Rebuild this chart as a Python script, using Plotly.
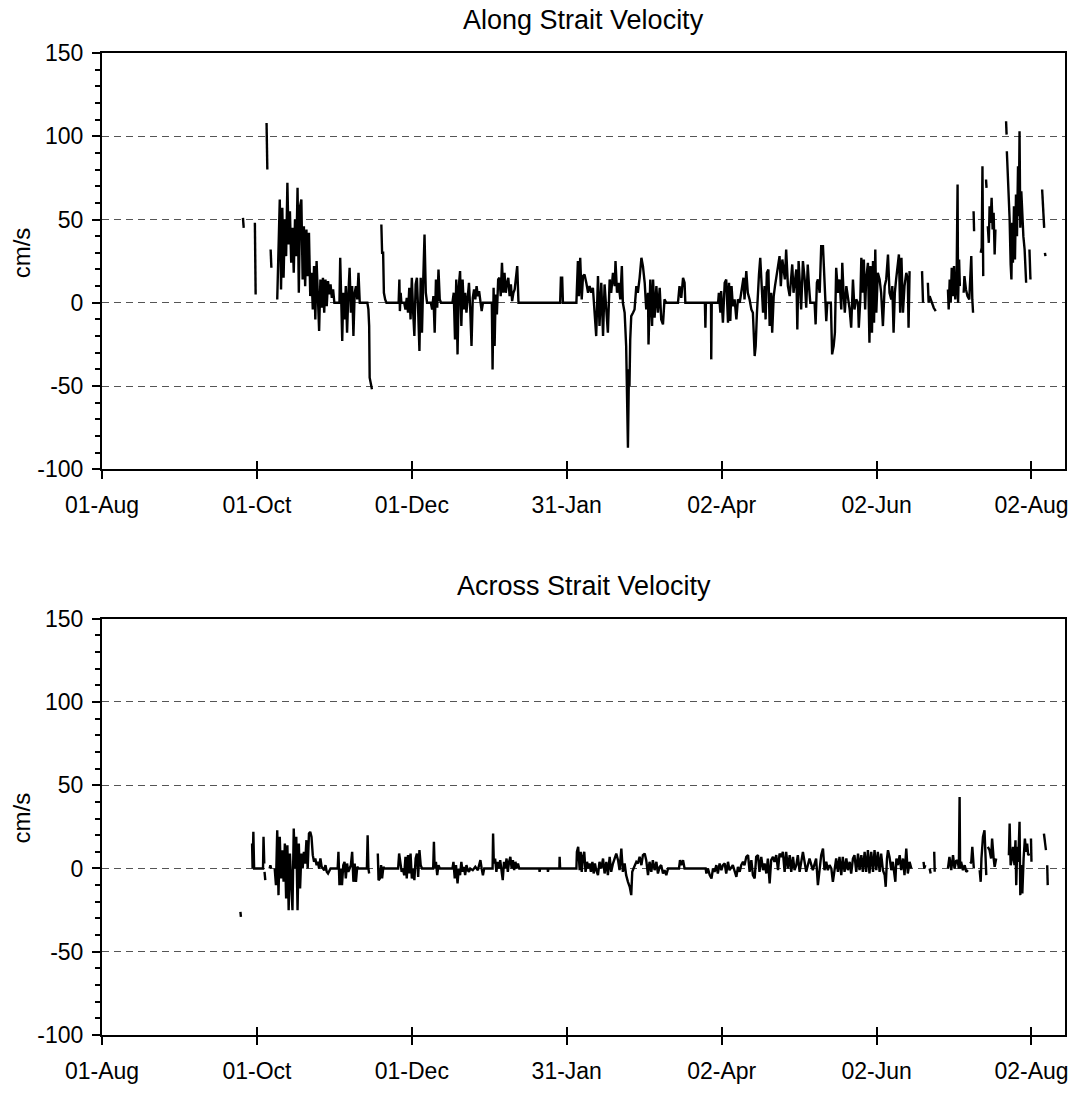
import pandas as pd
import plotly.graph_objects as go

# ---------------- data (day offset from START, value in cm/s) ----------------
START = "2002-08-01"
END_DAY = 379.2

tick_dates = ["2002-08-01", "2002-10-01", "2002-12-01", "2003-01-31",
              "2003-04-02", "2003-06-02", "2003-08-02"]
tick_labels = ["01-Aug", "01-Oct", "01-Dec", "31-Jan", "02-Apr", "02-Jun", "02-Aug"]

y_ticks = [-100, -50, 0, 50, 100, 150]
y_tick_labels = ["-100", "-50", "0", "50", "100", "150"]
y_minor_ticks = [-90, -80, -70, -60, -40, -30, -20, -10, 10, 20, 30, 40,
                 60, 70, 80, 90, 110, 120, 130, 140]

# ---- Along strait: contiguous runs (gaps between runs) ----
along_r01 = [(55.5, 51), (55.8, 45)]
along_r02 = [(60.2, 48), (60.5, 5)]
along_r03 = [(64.8, 108), (65.1, 80)]
along_r04 = [(66.4, 32), (66.7, 21)]
along_oct_nov = [
    (69.0, 2), (69.5, 40), (70.0, 62), (70.5, 8), (71.0, 57), (71.5, 15), (72.0, 50), (72.5, 28),
    (73.0, 72), (73.5, 35), (74.0, 55), (74.5, 24), (75.0, 45), (75.5, 18), (76.0, 50), (76.5, 28),
    (77.0, 69), (77.5, 6), (78.0, 58), (78.5, 62), (79.0, 14), (79.5, 46), (80.0, 10), (80.5, 44),
    (81.0, 16), (81.5, 42), (82.0, 4), (82.5, 18), (83.0, -4), (83.5, 22), (84.0, -10), (84.5, 25),
    (85.0, 2), (85.5, -17), (86.0, 14), (86.5, -3), (87.0, 15), (87.5, -6), (88.0, 14), (88.5, -2),
    (89.0, 13), (89.5, 5), (90.0, 11), (90.5, 3), (91.0, 8), (91.5, 0), (93.5, 0), (93.8, 27),
    (94.2, 2), (94.6, -23), (95.0, 6), (95.5, -10), (96.0, 10), (96.5, -18), (97.0, 5), (97.5, 21),
    (98.0, -6), (98.5, 10), (99.0, -20), (99.5, 6), (100.0, 10), (100.5, 2), (101.0, 18), (101.5, 0),
    (104.5, 0), (104.9, -4), (105.2, -14), (105.4, -45), (106.3, -52)]
along_dec = [
    (110.0, 47), (110.3, 30), (110.7, 30), (111.0, 6), (111.5, 2), (112.0, 0), (116.8, 0), (117.1, 14),
    (117.3, -5), (117.6, 6), (117.9, 0), (119.0, 0), (119.5, -4), (120.0, 3), (120.5, -6), (121.0, 9),
    (121.5, -10), (122.0, 15), (122.5, -5), (123.0, -20), (123.5, 11), (124.0, 15), (124.5, -5),
    (125.0, -29), (125.5, 15), (126.0, -18), (126.5, 14), (127.0, 41), (127.5, 6), (128.0, 0),
    (129.5, 0), (130.0, -4), (130.5, 4), (131.0, -18), (131.5, 14), (132.0, -3), (132.5, 20),
    (133.0, 2), (133.5, 0), (138.0, 0), (138.5, 6), (139.0, -22), (139.5, 14), (140.0, -31),
    (140.5, 10), (141.0, 19), (141.5, -14), (142.0, 14), (142.5, -4), (143.0, 6), (143.5, -6),
    (144.0, 2), (144.5, 12), (145.0, -4), (145.5, -26), (146.0, 3), (146.5, 8), (147.0, 2),
    (147.5, 10), (148.0, 4), (148.5, 7), (149.0, 1), (149.5, -5), (150.0, 0), (153.5, 0),
    (153.8, -40), (154.2, 9), (154.6, -26), (155.0, 5), (155.5, -7), (156.0, 14), (156.5, 15),
    (157.0, 4), (157.5, 24), (158.0, 6), (158.5, 18), (159.0, 6), (159.5, 12), (160.0, 15),
    (160.5, 4), (161.0, 11), (161.5, 1), (162.0, 6), (162.5, 8), (163.5, 22), (164.0, 0)]
along_jan_mar = [
    (180.4, 0), (180.7, 15), (181.2, 15), (181.5, 0), (186.8, 0), (187.4, 25), (187.8, 4), (188.3, 27),
    (188.9, 2), (189.4, 16), (190.0, 17), (190.7, 12), (191.4, 6), (192.0, 10), (192.7, 6), (193.3, 9),
    (194.0, -9), (194.6, -20), (195.3, 16), (195.9, -14), (196.6, 12), (197.3, -20), (197.9, 11),
    (198.6, -2), (199.2, -18), (199.9, 14), (200.5, 6), (201.2, 18), (201.9, 10), (202.2, 25),
    (202.8, 6), (203.4, 12), (204.1, 2), (204.7, 22), (205.1, 0), (205.8, -6), (206.4, -26),
    (207.1, -87), (207.5, -40), (207.7, -50), (208.0, -22), (208.4, -8), (209.1, -6), (209.7, -4),
    (210.4, 10), (211.0, 6), (211.7, 15), (212.4, 27), (213.0, 22), (213.7, 12), (214.3, -4),
    (215.0, 6), (215.2, -25), (215.9, 14), (216.6, -14), (217.0, 14), (217.6, -9), (218.3, 10),
    (218.9, -6), (219.6, 9), (220.2, -10), (220.9, -13), (221.5, 2), (222.2, 0), (226.8, 0),
    (227.4, 10), (228.1, 3), (228.8, 15), (229.4, 12), (229.7, 0), (237.4, 0), (237.6, -15),
    (237.8, 0), (239.8, 0), (239.9, -34), (240.1, 0), (242.6, 0)]
along_apr_jun = [
    (242.9, 6), (243.5, -6), (243.8, 7), (244.5, -12), (245.2, 12), (245.8, 14), (246.5, -12),
    (246.9, 12), (247.4, -11), (247.9, 10), (248.4, -2), (249.1, 2), (249.8, -10), (250.4, 2),
    (251.1, 0), (251.7, 6), (252.1, 10), (252.6, 15), (253.0, 2), (253.7, 19), (254.3, 6), (255.0, 2),
    (255.7, -4), (256.3, -6), (257.0, -32), (257.4, -26), (257.9, -6), (258.3, 10), (258.7, 17),
    (259.2, 27), (259.6, 12), (260.3, -6), (260.9, 10), (261.3, -10), (261.8, 18), (262.4, 20),
    (262.9, -14), (263.5, 6), (263.9, -18), (264.5, 4), (265.0, 10), (265.5, 14), (266.2, 22),
    (266.8, 28), (267.3, 10), (267.9, 26), (268.4, 18), (268.9, 14), (269.4, 32), (270.1, 10),
    (270.8, 4), (271.4, 18), (271.8, 23), (272.3, 6), (272.9, 14), (273.4, 20), (273.8, -16),
    (274.3, 25), (274.7, 14), (275.3, -4), (276.0, 25), (276.7, 14), (277.3, -3), (277.9, 23),
    (278.4, 10), (278.9, 0), (280.6, 0), (281.0, -13), (281.5, 12), (281.9, 14), (282.6, 6),
    (283.2, 34), (283.9, 34), (284.3, 22), (284.7, 10), (285.2, -11), (285.6, 0), (287.0, 0),
    (287.5, -31), (288.1, -26), (288.6, -18), (289.1, 21), (289.8, 6), (290.4, 14), (291.1, -4),
    (291.5, 24), (292.0, 6), (292.5, -6), (293.1, 10), (293.7, 4), (294.4, -4), (295.0, -15),
    (295.7, 14), (296.3, -4), (297.0, 2), (297.7, 0), (298.0, -15), (298.6, 2), (299.0, 27),
    (299.6, 6), (300.0, 26), (300.5, -4), (300.9, 14), (301.6, 24), (302.2, -24), (302.6, 22),
    (303.2, -18), (303.6, 25), (304.0, -12), (304.5, 32), (304.9, -6), (305.5, 18), (306.2, 14),
    (306.8, 6), (307.5, -14), (308.2, 10), (308.8, 14), (309.5, 29), (310.1, 6), (310.8, 2),
    (311.2, 10), (311.7, -18), (312.2, 6), (312.7, 14), (313.4, 22), (313.8, 29), (314.3, -6),
    (314.8, 27), (315.4, -6), (316.0, 10), (316.7, 18), (317.3, 14), (317.6, -15), (318.0, 19)]
along_r07 = [(322.9, 19), (323.1, 4), (323.3, 0)]
along_r08 = [(325.2, 12), (325.5, 0), (325.9, 4), (326.3, 2), (326.8, 0), (327.5, -3), (328.3, -5)]
along_r09 = [(333.1, 8), (333.4, -4), (333.8, 14), (334.2, 0), (334.6, 21), (335.0, 4), (335.5, 22),
             (336.0, 2), (336.5, 12), (336.9, 71), (337.1, 0), (337.5, 26), (337.8, 10)]
along_r10 = [(339.3, 6), (339.6, 16), (340.2, 8), (340.8, 4), (341.5, 2), (342.3, 28), (342.7, 2),
             (343.0, -6)]
along_r11 = [(343.2, 55), (343.4, 43)]
along_r12 = [(346.0, 30), (346.4, 33), (346.7, 82), (347.0, 16)]
along_r13 = [(348.1, 74), (348.3, 69)]
along_r14 = [(348.8, 46), (349.2, 36), (349.5, 58), (349.9, 48), (350.3, 63), (350.7, 44),
             (351.1, 54), (351.5, 29), (351.8, 44)]
along_r15 = [(356.0, 109), (356.2, 101)]
along_r16 = [(356.3, 91), (356.6, 80), (357.0, 71), (357.4, 50), (357.8, 23), (358.1, 14),
             (358.4, 48), (358.7, 24), (359.1, 58), (359.5, 26), (359.9, 65), (360.3, 40),
             (360.7, 82), (361.0, 52), (361.3, 103), (361.6, 45), (362.0, 67), (362.4, 48),
             (362.8, 40), (363.3, 32), (363.9, 12)]
along_r17 = [(365.2, 32), (365.6, 14)]
along_r18 = [(370.2, 68), (370.5, 60), (371.0, 45)]
along_r19 = [(371.3, 30), (371.5, 28)]

# ---- Across strait ----
across_r01 = [(54.5, -26), (54.7, -29)]
across_r02 = [(59.1, 15), (59.3, 0), (59.6, 22), (59.9, 0), (63.4, 0), (63.6, 19), (63.9, 3)]
across_r03 = [(64.0, -2), (64.3, -7)]
across_r04 = [(66.0, 0), (66.3, 2), (66.6, 0)]
across_oct_nov = [
    (68.0, 0), (68.5, -10), (69.0, 23), (69.5, -16), (70.0, 19), (70.5, -6), (71.0, 11), (71.5, -8),
    (72.0, 15), (72.5, -18), (73.0, 14), (73.5, -25), (74.0, 9), (74.5, -14), (75.0, -25), (75.5, 24),
    (76.0, 0), (76.5, 19), (77.0, -25), (77.5, 15), (78.0, -12), (78.5, 9), (79.0, 0), (79.5, 10),
    (80.0, 3), (80.5, 17), (81.0, 0), (81.5, 21), (82.0, 22), (82.5, 19), (83.0, 8), (83.5, 4),
    (84.0, 6), (84.5, 2), (85.0, 4), (85.5, 0), (86.0, 6), (86.5, 1), (87.0, 0), (87.5, -1),
    (88.0, 2), (88.5, -2), (89.0, -3), (89.5, -1), (90.0, 0), (92.8, 0), (93.1, 10), (93.5, -10),
    (94.0, 0), (94.5, -10), (95.0, 2), (95.5, 4), (96.0, -6), (96.5, 3), (97.0, -2), (97.5, 0),
    (98.0, 2), (98.5, 10), (99.0, -8), (99.5, 3), (100.0, -8), (100.5, 1), (101.0, 0), (104.3, 0),
    (104.6, 20), (104.9, 0), (105.2, -3)]
across_dec_jan = [
    (108.6, 9), (108.9, -7), (109.4, -6), (109.9, 2), (110.3, -6), (110.8, 1), (111.2, 0), (116.6, 0),
    (117.0, 9), (117.5, 2), (118.0, -2), (118.5, 0), (119.0, -4), (119.5, 7), (120.0, -6), (120.5, 8),
    (121.0, -3), (121.5, 9), (122.0, -6), (122.5, 0), (123.0, -7), (123.5, 6), (124.0, 9), (124.5, -5),
    (125.0, 11), (125.5, 2), (126.0, 0), (130.4, 0), (130.7, 16), (131.0, 0), (131.5, 4), (132.0, -4),
    (132.5, 2), (133.0, 0), (138.0, 0), (138.4, 4), (138.9, -6), (139.4, 2), (140.0, -9), (140.5, 0),
    (141.0, -4), (141.5, 4), (142.0, -2), (142.5, 1), (143.0, -4), (143.5, 2), (144.0, -1),
    (144.5, -2), (145.0, 0), (146.0, -1), (147.0, 1), (148.0, -1), (149.0, 5), (149.5, 0),
    (150.0, -4), (150.5, 0), (153.8, 0), (154.0, 21), (154.3, 3), (154.8, 6), (155.3, -2),
    (155.8, 4), (156.3, 0), (156.8, 5), (157.3, -2), (157.8, -7), (158.3, 4), (158.8, 0), (159.3, 6),
    (159.8, -2), (160.3, 4), (160.8, 7), (161.3, 0), (161.8, 5), (162.3, -1), (162.8, 4), (163.3, 0),
    (163.8, 3), (164.3, 0), (172.2, 0), (172.3, -2), (172.5, 0), (175.5, 0), (175.6, -2), (175.8, 0),
    (180.1, 0), (180.2, 7), (180.4, 0), (186.8, 0)]
across_feb_apr = [
    (187.0, 10), (187.5, 13), (188.1, -1), (188.5, 10), (188.9, -2), (189.4, 7), (189.9, 10),
    (190.4, -2), (191.0, 4), (191.5, 0), (192.0, 3), (192.5, -2), (193.1, 4), (193.6, -3), (194.1, 3),
    (194.6, -1), (195.3, -4), (195.9, 4), (196.6, 0), (197.3, 6), (197.9, -3), (198.6, 4), (199.2, -4),
    (199.9, 7), (200.5, -2), (201.2, 3), (201.9, 7), (202.5, 9), (203.2, 5), (203.8, -1), (204.5, 12),
    (205.1, -2), (205.8, 3), (206.4, -4), (207.1, -8), (207.8, -11), (208.4, -16), (208.8, -2),
    (209.3, 0), (209.7, 2), (210.4, 4), (211.0, 3), (211.7, 7), (212.4, 2), (213.0, 8), (213.7, 9),
    (214.3, 5), (215.0, -4), (215.6, 4), (216.3, -2), (216.9, 5), (217.6, -1), (218.3, 4),
    (218.9, -3), (219.6, 1), (220.2, 2), (220.9, -3), (221.5, -1), (222.2, -4), (222.9, 0),
    (226.8, 0), (227.2, 0), (227.6, 5), (228.1, 2), (228.8, 5), (229.4, 0), (237.3, 0), (237.7, 0),
    (238.0, -3), (238.6, 0), (239.3, -4), (240.0, -6), (240.6, 0), (241.2, -2), (241.9, 2),
    (242.5, -3), (243.2, 3), (243.9, -1), (244.5, 2), (245.2, 3), (245.8, -3), (246.5, 4),
    (247.1, -1), (247.8, 1), (248.4, 2), (249.8, -5), (250.4, 1), (251.1, -2), (251.7, 2),
    (252.4, 4), (253.0, 2), (253.7, 7), (254.4, 8), (255.0, -2), (255.7, 5), (256.3, -4),
    (257.0, -6), (257.6, 7), (258.3, 8), (258.9, -2), (259.6, 7), (260.3, -1), (260.9, 3),
    (261.6, -3), (262.2, 6), (262.9, -9), (263.5, 5), (264.2, 7), (264.8, 4), (265.5, 8),
    (266.2, -1), (266.8, 9), (267.5, 7), (268.1, 10), (268.8, -2), (269.4, 10), (270.1, 0),
    (270.8, 8), (271.4, -2), (272.1, 7), (272.7, -1), (273.4, 2), (274.0, 8), (274.7, -2)]
across_may_jun = [
    (276.0, 10), (277.3, -2), (278.6, 6), (279.9, -1), (281.2, 6), (281.9, -10), (282.6, 2),
    (283.2, 8), (283.9, 12), (284.5, -1), (285.2, 4), (285.8, -1), (286.5, 2), (287.2, 0),
    (287.8, -8), (289.1, 6), (289.8, -2), (290.4, 7), (291.1, -4), (291.7, 7), (292.4, -2),
    (293.1, 6), (293.7, -1), (294.4, 4), (295.0, -3), (295.7, 6), (296.3, 8), (297.0, -2),
    (297.7, 9), (298.3, -1), (299.0, 8), (299.6, -2), (300.3, 10), (300.9, -2), (301.6, 11),
    (302.2, -3), (302.9, 10), (303.6, -2), (304.2, 11), (304.9, -1), (305.5, 10), (306.2, -2),
    (306.8, 9), (307.5, -1), (308.2, -4), (308.6, -11), (309.1, 6), (309.5, 11), (310.1, 7),
    (310.8, -1), (311.4, 4), (312.1, -4), (312.4, -8), (312.8, 6), (313.4, 2), (314.1, 8),
    (314.7, -1), (315.4, 6), (316.0, -4), (316.7, 12), (317.3, -3), (318.0, 4), (318.7, 0)]
across_r09 = [(323.5, 4), (323.8, 0), (324.2, 2)]
across_r10 = [(325.9, 0), (326.3, -3)]
across_r11 = [(327.7, 10), (327.9, -2)]
across_r12 = [(333.1, 0), (333.7, 7), (334.4, -1), (335.1, 8), (335.7, 0), (336.4, 5), (337.0, 4),
              (337.4, 0), (337.7, 43), (337.9, 0), (338.3, 4), (339.0, -1), (339.7, 2), (340.3, -2),
              (341.0, -1)]
across_r13 = [(341.9, 3), (342.3, 4), (342.7, 13), (342.9, 7), (343.3, 0)]
across_r14 = [(345.6, -1), (346.0, -8), (346.3, 6), (346.9, 19), (347.5, 23), (347.9, 8), (348.2, -4)]
across_r15 = [(348.8, 13), (349.5, 11), (350.1, 6), (350.5, 18), (351.1, 6), (351.5, 1), (352.1, 6)]
across_r16 = [(357.1, 8), (357.4, 27), (357.8, 2), (358.2, 5), (358.7, 13), (359.3, 2), (359.7, 17),
              (360.0, -10), (360.4, 13), (360.8, 4), (361.3, 28), (361.6, -16), (362.0, 2),
              (362.4, -15), (362.9, 6), (363.4, 18), (363.9, 10), (364.3, 15), (364.7, 8), (365.2, 9)]
across_r17 = [(365.8, 18), (366.0, 4)]
across_r18 = [(370.9, 21), (371.3, 15), (371.7, 11)]
across_r19 = [(372.2, 2), (372.4, -10)]

# ---------------- assembly ----------------
along_runs = [along_r01, along_r02, along_r03, along_r04, along_oct_nov,
              along_dec + along_jan_mar + along_apr_jun,
              along_r07, along_r08, along_r09, along_r10, along_r11, along_r12, along_r13,
              along_r14, along_r15, along_r16, along_r17, along_r18, along_r19]
across_runs = [across_r01, across_r02, across_r03, across_r04, across_oct_nov,
               across_dec_jan + across_feb_apr + across_may_jun,
               across_r09, across_r10, across_r11, across_r12, across_r13, across_r14,
               across_r15, across_r16, across_r17, across_r18, across_r19]

base = pd.Timestamp(START)


def build(runs):
    xs, ys = [], []
    for run in runs:
        for d, v in run:
            xs.append(base + pd.Timedelta(days=d))
            ys.append(v)
        xs.append(None)
        ys.append(None)
    return xs, ys


ax, ay = build(along_runs)
cx, cy = build(across_runs)

FONT = "Liberation Sans, Arial, sans-serif"
line_style = dict(color="black", width=2.4)

fig = go.Figure()
fig.add_trace(go.Scatter(x=ax, y=ay, mode="lines", line=line_style, xaxis="x", yaxis="y",
                         connectgaps=False, showlegend=False, hoverinfo="skip"))
fig.add_trace(go.Scatter(x=cx, y=cy, mode="lines", line=line_style, xaxis="x2", yaxis="y2",
                         connectgaps=False, showlegend=False, hoverinfo="skip"))
# helper empty traces for the inner half of the crossing x ticks
fig.add_trace(go.Scatter(x=[], y=[], xaxis="x3", yaxis="y", showlegend=False))
fig.add_trace(go.Scatter(x=[], y=[], xaxis="x4", yaxis="y2", showlegend=False))

x_range = [base, base + pd.Timedelta(days=END_DAY)]
tickvals = [pd.Timestamp(d) for d in tick_dates]


def xaxis(anchor):
    return dict(domain=[0, 1], anchor=anchor, type="date", range=x_range,
                tickmode="array", tickvals=tickvals, ticktext=tick_labels,
                ticks="outside", ticklen=8, tickwidth=2, tickcolor="black",
                ticklabelstandoff=6,
                showline=True, linewidth=2, linecolor="black", mirror=True,
                showgrid=False, zeroline=False,
                tickfont=dict(family=FONT, size=23, color="black"))


def xaxis_inner(over, anchor):
    return dict(overlaying=over, anchor=anchor, type="date", range=x_range,
                tickmode="array", tickvals=tickvals, ticks="inside", ticklen=8,
                tickwidth=2, tickcolor="black", showticklabels=False, showline=False,
                showgrid=False, zeroline=False)


def yaxis(domain, anchor):
    return dict(domain=domain, anchor=anchor, range=[-100, 150],
                tickmode="array", tickvals=y_ticks, ticktext=y_tick_labels,
                ticks="outside", ticklen=8, tickwidth=2, tickcolor="black",
                ticklabelstandoff=4,
                minor=dict(tickmode="array", tickvals=y_minor_ticks, ticks="outside",
                           ticklen=5, tickwidth=1.5, tickcolor="black", showgrid=False),
                showgrid=True, gridcolor="#555555", gridwidth=1, griddash="7px,5px",
                showline=True, linewidth=2, linecolor="black", mirror=True,
                zeroline=False, tickfont=dict(family=FONT, size=23, color="black"))


fig.update_layout(
    width=1081, height=1096,
    margin=dict(l=102, r=15, t=53, b=57),
    paper_bgcolor="white", plot_bgcolor="white",
    xaxis=xaxis("y"), yaxis=yaxis([0.5761, 1.0], "x"),
    xaxis2=xaxis("y2"), yaxis2=yaxis([0.0, 0.4239], "x2"),
    xaxis3=xaxis_inner("x", "y"), xaxis4=xaxis_inner("x2", "y2"),
    annotations=[
        dict(text="Along Strait Velocity", xref="paper", yref="paper", x=0.5, y=1.0335,
             xanchor="center", yanchor="middle", showarrow=False,
             font=dict(family=FONT, size=27, color="black")),
        dict(text="Across Strait Velocity", xref="paper", yref="paper", x=0.5, y=0.4574,
             xanchor="center", yanchor="middle", showarrow=False,
             font=dict(family=FONT, size=27, color="black")),
        dict(text="cm/s", xref="paper", yref="paper", x=-0.084, y=0.7961, textangle=-90,
             xanchor="center", yanchor="middle", showarrow=False,
             font=dict(family=FONT, size=24, color="black")),
        dict(text="cm/s", xref="paper", yref="paper", x=-0.084, y=0.2206, textangle=-90,
             xanchor="center", yanchor="middle", showarrow=False,
             font=dict(family=FONT, size=24, color="black")),
    ],
)

fig.write_html("out.html", config={"displayModeBar": False},
               post_script="document.body.style.margin='0';")
